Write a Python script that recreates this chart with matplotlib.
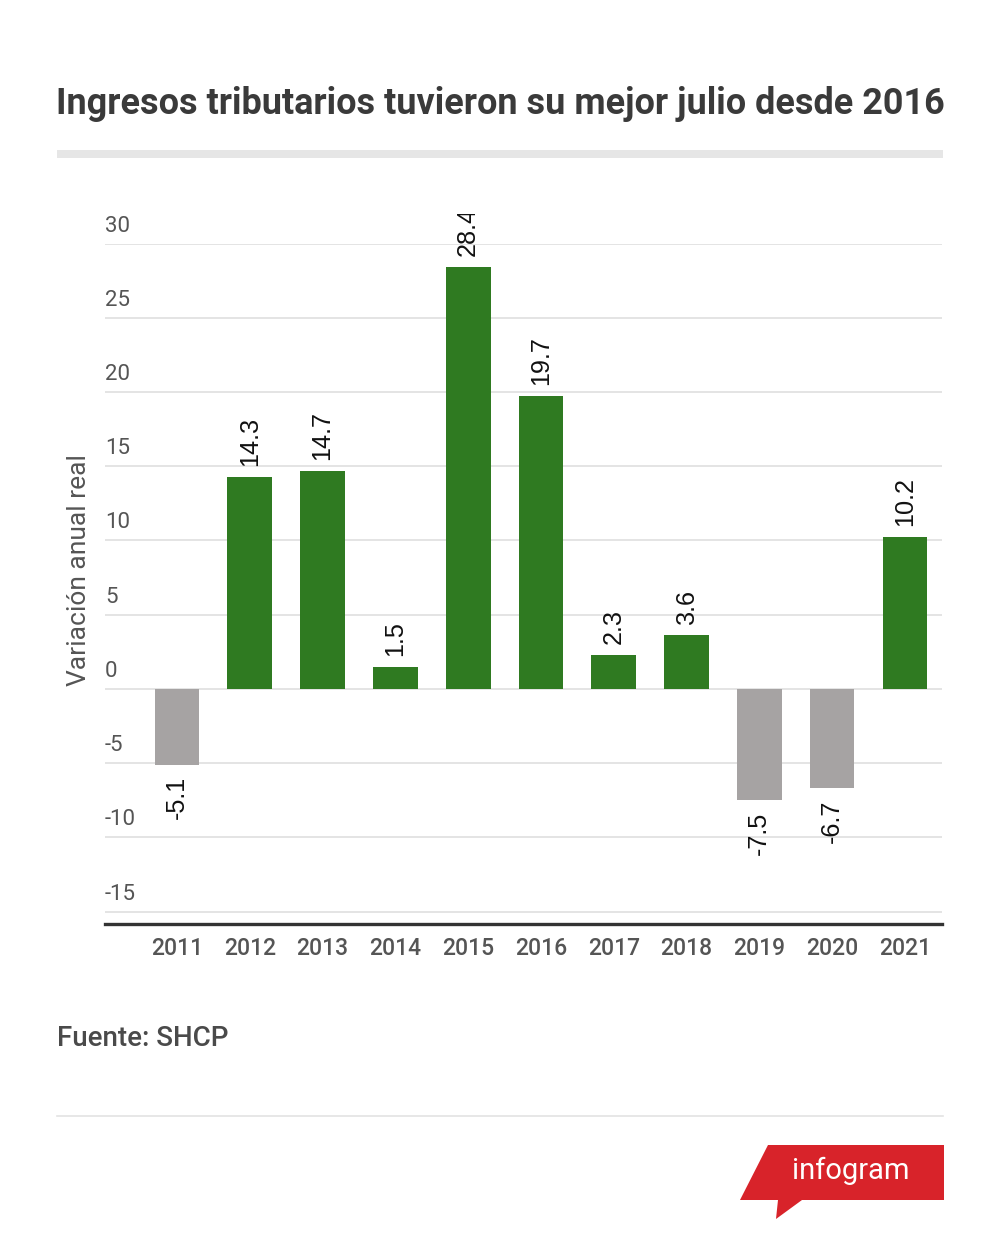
import matplotlib
matplotlib.use("Agg")
import matplotlib.pyplot as plt
from matplotlib.patches import Polygon, Rectangle
from matplotlib.lines import Line2D
import matplotlib.transforms as mtransforms

# ---- data ----
years = ["2011", "2012", "2013", "2014", "2015", "2016", "2017", "2018", "2019", "2020", "2021"]
values = [-5.1, 14.3, 14.7, 1.5, 28.4, 19.7, 2.3, 3.6, -7.5, -6.7, 10.2]
yticks = [30, 25, 20, 15, 10, 5, 0, -5, -10, -15]
title = "Ingresos tributarios tuvieron su mejor julio desde 2016"
ylabel = "Variación anual real"
source = "Fuente: SHCP"

GREEN = "#2f7a21"
GRAY = "#a6a3a3"

W, H = 1000, 1248
fig = plt.figure(figsize=(W / 100, H / 100), dpi=100)
fig.patch.set_facecolor("white")

def fx(px):
    return px / W

def fy(py):
    return 1 - py / H

# Title
fig.text(fx(56), fy(104), title, fontsize=25.9, fontweight="bold", family="Roboto",
         color="#3a3a3a", ha="left", va="center")
# gray band
fig.add_artist(Rectangle((fx(57), fy(158)), fx(943) - fx(57), fy(150) - fy(158),
                         transform=fig.transFigure, facecolor="#e6e6e6", edgecolor="none"))

# Axes
ymin, ymax = -15.85, 30
ax_left, ax_right = 105, 942
ax_top_px = 243.5
ax_bot_px = 924.3
ax = fig.add_axes([fx(ax_left), fy(ax_bot_px), fx(ax_right) - fx(ax_left), fy(ax_top_px) - fy(ax_bot_px)])
ax.set_ylim(ymin, ymax)
x = list(range(len(years)))
ax.set_xlim(-0.99, 10.51)

colors = [GREEN if v >= 0 else GRAY for v in values]
ax.bar(x, values, width=0.615, color=colors, zorder=3)

# grid
for t in yticks:
    ax.axhline(t, color="#dcdcdc", lw=1.1, zorder=1)

for s in ["top", "right", "left"]:
    ax.spines[s].set_visible(False)
ax.spines["bottom"].set_color("#333333")
ax.spines["bottom"].set_linewidth(2.4)
ax.set_yticks([])
ax.set_xticks(x)
ax.set_xticklabels(years, fontsize=16.5, fontweight="medium", family="Roboto", color="#555555")
ax.tick_params(axis="x", length=0, pad=9)

# y tick labels above gridlines, left-aligned
trans = mtransforms.blended_transform_factory(ax.transAxes, ax.transData)
trans_off = trans + mtransforms.ScaledTranslation(0, 7 / 100, fig.dpi_scale_trans)
for t in yticks:
    ax.text(0, t, str(t), transform=trans_off, ha="left", va="bottom",
            fontsize=16, family="Roboto", color="#555555", clip_on=False)

# y label
fig.text(fx(79), fy(570), ylabel, rotation=90, fontsize=19, family="Roboto",
         color="#555555", ha="center", va="center")

# value labels (clipped at the top of the plot region like the reference)
clip_rect = Rectangle((0, 0), 1, fy(213.5), transform=fig.transFigure, visible=False)
fig.add_artist(clip_rect)
for xi, v in zip(x, values):
    if v >= 0:
        off = mtransforms.offset_copy(ax.transData, fig=fig, x=0, y=11, units="dots")
        txt = ax.text(xi, v, f"{v:.1f}", transform=off, rotation=90, ha="center", va="bottom",
                      fontsize=18.2, family="Liberation Sans", color="#111111", zorder=4,
                      clip_on=True)
    else:
        off = mtransforms.offset_copy(ax.transData, fig=fig, x=0, y=-11, units="dots")
        txt = ax.text(xi, v, f"{v:.1f}", transform=off, rotation=90, ha="center", va="top",
                      fontsize=18.2, family="Liberation Sans", color="#111111", zorder=4,
                      clip_on=True)
    txt.set_clip_box(None)
    txt.set_clip_path(clip_rect)

# Source
fig.text(fx(57), fy(1038), source, fontsize=20, fontweight="medium", family="Roboto",
         color="#4a4a4a", ha="left", va="center")

# separator line
fig.add_artist(Line2D([fx(57), fx(943)], [fy(1116), fy(1116)], transform=fig.transFigure,
                      color="#e3e3e3", lw=1.2))

# infogram logo
RED = "#d8232a"
logo = Polygon([(fx(768), fy(1145)), (fx(944), fy(1145)), (fx(944), fy(1200)),
                (fx(802), fy(1200)), (fx(776), fy(1219)), (fx(778), fy(1200)),
                (fx(740), fy(1200))], closed=True, transform=fig.transFigure,
               facecolor=RED, edgecolor="none")
fig.add_artist(logo)
fig.text(fx(851), fy(1171), "infogram", fontsize=21, family="Roboto", color="white",
         ha="center", va="center")

fig.savefig("out.png", dpi=100, facecolor="white")
